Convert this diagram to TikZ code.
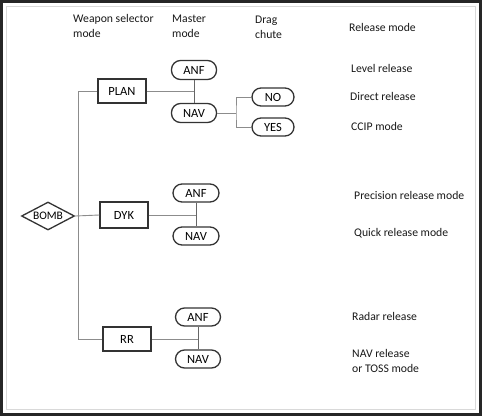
\documentclass[tikz,border=0pt]{standalone}
\usepackage{fontspec}
\setmainfont{Carlito}
\usetikzlibrary{shapes.geometric}
\begin{document}
\begin{tikzpicture}[x=1pt,y=-1pt,
  lbl/.style={anchor=west,inner sep=0pt,font=\fontsize{11.7}{15}\selectfont,align=left,text=black!90},
  sel/.style={draw=black!80,line width=1.3pt,minimum width=48pt,minimum height=24pt,inner sep=0pt,font=\fontsize{12.5}{13}\selectfont},
  pill/.style={draw=black!80,line width=1.3pt,rounded corners=9pt,minimum width=45pt,minimum height=19pt,inner sep=0pt,font=\fontsize{12.5}{13}\selectfont},
  wire/.style={draw=black!45,line width=0.9pt}]
\useasboundingbox (0,0) rectangle (482,416);
\fill[white] (0,0) rectangle (482,416);
\draw[black!85,line width=3pt] (1.5,1.5) rectangle (480.5,414.5);
\draw[black!15,line width=0.5pt] (6,6) rectangle (475,409);
% headers
\node[lbl] (h1) at (73,26) {Weapon selector\\mode};
\node[lbl] (h2) at (172,26) {Master\\mode};
\node[lbl] (h3) at (255,27) {Drag\\chute};
\node[lbl] (h4) at (349,27) {Release mode};
% PLAN group
\node[sel] (plan) at (122,91) {PLAN};
\node[pill] (anf1) at (194,70) {ANF};
\node[pill] (nav1) at (194,113) {NAV};
\node[pill,minimum width=42pt,minimum height=18pt] (no) at (273,97) {NO};
\node[pill,minimum width=42pt,minimum height=18pt] (yes) at (273,127) {YES};
\coordinate (br) at (236,113);
% DYK group
\node[draw=black!80,line width=1.3pt,diamond,aspect=1.9,minimum width=53pt,minimum height=28pt,inner sep=0pt,font=\fontsize{11.5}{12}\selectfont] (bomb) at (48,216) {BOMB};
\node[sel,minimum height=26pt] (dyk) at (124,215) {DYK};
\node[pill,minimum width=46pt,minimum height=18pt] (anf2) at (196,193) {ANF};
\node[pill,minimum width=46pt,minimum height=18pt] (nav2) at (196,236) {NAV};
% RR group
\node[sel] (rr) at (127,339) {RR};
\node[pill,minimum height=18pt] (anf3) at (198,317) {ANF};
\node[pill,minimum height=18pt] (nav3) at (198,359) {NAV};
\coordinate (ltop) at (78.5,91);
\coordinate (lbot) at (78.5,339);
% wires
\draw[wire] (plan.west) -- (ltop) -- (lbot) -- (rr.west);
\draw[wire] (bomb.east) -- (dyk.west);
\draw[wire] (plan.east) -- (plan.east -| anf1.south);
\draw[wire,black!60] (anf1.south) -- (nav1.north);
\draw[wire] (nav1.east) -- (br);
\draw[wire] (no.west) -| (br) |- (yes.west);
\draw[wire] (dyk.east) -- (dyk.east -| anf2.south);
\draw[wire,black!60] (anf2.south) -- (nav2.north);
\draw[wire] (rr.east) -- (rr.east -| anf3.south);
\draw[wire,black!60] (anf3.south) -- (nav3.north);
% release modes
\node[lbl] (r1) at (351,68) {Level release};
\node[lbl] (r2) at (350,96) {Direct release};
\node[lbl] (r3) at (351,126) {CCIP mode};
\node[lbl] (r4) at (354,195) {Precision release mode};
\node[lbl] (r5) at (354,233) {Quick release mode};
\node[lbl] (r6) at (352,316) {Radar release};
\node[lbl] (r7) at (352,361) {NAV release\\or TOSS mode};
\end{tikzpicture}
\end{document}
